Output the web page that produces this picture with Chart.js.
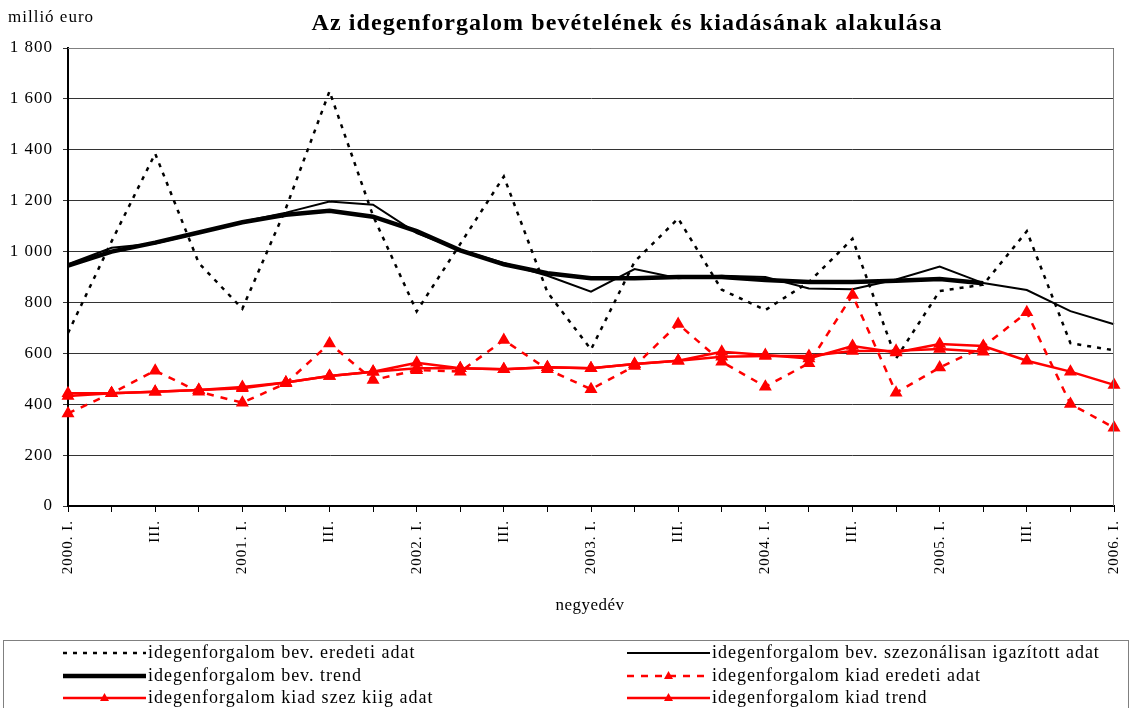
<!DOCTYPE html>
<html>
<head>
<meta charset="utf-8">
<script src="https://cdn.jsdelivr.net/npm/chart.js@4/dist/chart.umd.min.js"></script>
<style>
  html, body { margin: 0; padding: 0; background: #fff; }
  #wrap { width: 1132px; height: 708px; }
</style>
</head>
<body>
<div id="wrap"><canvas id="tourismChart" width="1132" height="708"></canvas></div>
<script>
// negyedévek
const categories = [
  '2000. I.', '2000. II.', '2000. III.', '2000. IV.',
  '2001. I.', '2001. II.', '2001. III.', '2001. IV.',
  '2002. I.', '2002. II.', '2002. III.', '2002. IV.',
  '2003. I.', '2003. II.', '2003. III.', '2003. IV.',
  '2004. I.', '2004. II.', '2004. III.', '2004. IV.',
  '2005. I.', '2005. II.', '2005. III.', '2005. IV.',
  '2006. I.'
];
const tickLabels = [
  '2000. I.', '', 'III.', '', '2001. I.', '', 'III.', '', '2002. I.', '', 'III.', '',
  '2003. I.', '', 'III.', '', '2004. I.', '', 'III.', '', '2005. I.', '', 'III.', '', '2006. I.'
];
const yTicks = [0, 200, 400, 600, 800, 1000, 1200, 1400, 1600, 1800];

// millió euro
const bevEredeti = [680, 1040, 1385, 955, 775, 1170, 1630, 1140, 765, 1030, 1295, 840,
  615, 960, 1130, 850, 770, 880, 1050, 580, 845, 870, 1080, 640, 612];
const bevSzez = [950, 1015, 1032, 1073, 1117, 1153, 1197, 1184, 1073, 1006, 955, 905,
  842, 931, 895, 905, 900, 855, 852, 890, 941, 876, 849, 766, 714];
const bevTrend = [945, 1000, 1035, 1075, 1115, 1145, 1160, 1137, 1080, 1005, 950, 915,
  895, 895, 900, 900, 888, 880, 880, 885, 892, 875, null, null, null];
const kiadEredeti = [364, 443, 532, 449, 406, 482, 639, 495, 534, 528, 652, 537,
  459, 550, 715, 567, 469, 561, 829, 445, 544, 626, 761, 401, 308];
const kiadSzez = [432, 443, 449, 456, 468, 485, 511, 528, 563, 541, 537, 545,
  541, 558, 571, 606, 593, 580, 629, 603, 637, 629, 571, 528, 476];
const kiadTrend = [443, 443, 449, 456, 463, 485, 511, 528, 541, 541, 537, 545,
  541, 558, 571, 587, 590, 590, 609, 610, 617, 606, null, null, null];

const serif = '"Liberation Serif", "DejaVu Serif", serif';
const RED = '#ff0000';

function fmtThousands(v) {
  return String(v).replace(/\B(?=(\d{3})+(?!\d))/g, ' ');
}

const extras = {
  id: 'extras',
  beforeDraw(chart) {
    // a tengelyfeliratok ritkább betűközzel
    chart.ctx.letterSpacing = '1px';
  },
  afterDraw(chart) {
    const ctx = chart.ctx;
    const a = chart.chartArea;
    ctx.save();
    // keret a rajzterület körül
    ctx.strokeStyle = '#808080';
    ctx.lineWidth = 1;
    ctx.beginPath();
    ctx.moveTo(a.left, a.top + 0.5);
    ctx.lineTo(a.right - 0.5, a.top + 0.5);
    ctx.lineTo(a.right - 0.5, a.bottom);
    ctx.stroke();

    ctx.fillStyle = '#000';
    ctx.textBaseline = 'middle';
    ctx.letterSpacing = '1.1px';
    ctx.font = 'bold 24px ' + serif;
    ctx.textAlign = 'center';
    ctx.fillText('Az idegenforgalom bevételének és kiadásának alakulása', 627, 24);

    ctx.letterSpacing = '1px';
    ctx.font = '17px ' + serif;
    ctx.textAlign = 'left';
    ctx.fillText('millió euro', 8, 18);

    ctx.letterSpacing = '0.5px';
    ctx.textAlign = 'center';
    ctx.fillText('negyedév', 590, 606);

    // jelmagyarázat
    ctx.letterSpacing = '0px';
    ctx.strokeStyle = '#808080';
    ctx.lineWidth = 1;
    ctx.strokeRect(3.5, 640.5, 1125, 80);

    const cols = [{ x0: 63, x1: 146 }, { x0: 627, x1: 710 }];
    const rows = [653, 676, 698];
    chart.data.datasets.forEach((ds, i) => {
      const c = cols[i % 2];
      const y = rows[Math.floor(i / 2)];
      ctx.save();
      ctx.strokeStyle = ds.borderColor;
      ctx.lineWidth = ds.borderWidth;
      ctx.setLineDash(ds.borderDash || []);
      ctx.beginPath();
      ctx.moveTo(c.x0, y);
      ctx.lineTo(c.x1, y);
      ctx.stroke();
      if (ds.pointRadius > 0) {
        const mx = (c.x0 + c.x1) / 2;
        const r = ds.pointRadius;
        ctx.fillStyle = ds.pointBackgroundColor;
        ctx.beginPath();
        ctx.moveTo(mx, y - r);
        ctx.lineTo(mx + r * 0.9, y + r * 0.6);
        ctx.lineTo(mx - r * 0.9, y + r * 0.6);
        ctx.closePath();
        ctx.fill();
      }
      ctx.restore();
      ctx.fillStyle = '#000';
      ctx.letterSpacing = '1px';
      ctx.font = '18px ' + serif;
      ctx.textAlign = 'left';
      ctx.fillText(ds.label, c.x1 + 2, y);
    });
    ctx.restore();
  }
};

const ctx = document.getElementById('tourismChart').getContext('2d');
new Chart(ctx, {
  type: 'line',
  data: {
    labels: categories,
    datasets: [
      {
        label: 'idegenforgalom bev. eredeti adat',
        data: bevEredeti,
        borderColor: '#000',
        borderWidth: 2.5,
        borderDash: [4, 6],
        pointRadius: 0,
        order: 6
      },
      {
        label: 'idegenforgalom bev. szezonálisan igazított adat',
        data: bevSzez,
        borderColor: '#000',
        borderWidth: 2,
        pointRadius: 0,
        order: 5
      },
      {
        label: 'idegenforgalom bev. trend',
        data: bevTrend,
        borderColor: '#000',
        borderWidth: 4.5,
        pointRadius: 0,
        order: 4
      },
      {
        label: 'idegenforgalom kiad eredeti adat',
        data: kiadEredeti,
        borderColor: RED,
        borderWidth: 2.5,
        borderDash: [7, 7],
        pointStyle: 'triangle',
        pointRadius: 5,
        pointBackgroundColor: RED,
        pointBorderColor: RED,
        order: 3
      },
      {
        label: 'idegenforgalom kiad szez kiig adat',
        data: kiadSzez,
        borderColor: RED,
        borderWidth: 2.5,
        pointStyle: 'triangle',
        pointRadius: 5,
        pointBackgroundColor: RED,
        pointBorderColor: RED,
        order: 2
      },
      {
        label: 'idegenforgalom kiad trend',
        data: kiadTrend,
        borderColor: RED,
        borderWidth: 2.5,
        pointStyle: 'triangle',
        pointRadius: 5,
        pointBackgroundColor: RED,
        pointBorderColor: RED,
        order: 1
      }
    ]
  },
  options: {
    responsive: false,
    animation: false,
    tension: 0,
    layout: { padding: { top: 48, right: 18, bottom: 0, left: 0 } },
    plugins: {
      legend: { display: false },
      title: { display: false },
      tooltip: { enabled: false }
    },
    scales: {
      x: {
        offset: false,
        afterFit(scale) {
          scale.height = 202;
          scale.paddingLeft = 0;
          scale.paddingRight = 0;
        },
        grid: {
          drawOnChartArea: false,
          drawTicks: true,
          tickLength: 6,
          color: '#000'
        },
        border: { color: '#000', width: 2 },
        ticks: {
          autoSkip: false,
          maxRotation: 90,
          minRotation: 90,
          padding: 8,
          color: '#000',
          font: { family: serif, size: 15 },
          callback: (v, i) => tickLabels[i]
        }
      },
      y: {
        min: 0,
        max: 1800,
        afterFit(scale) {
          scale.width = 68;
          scale.paddingTop = 0;
          scale.paddingBottom = 0;
        },
        afterBuildTicks(scale) { scale.ticks = yTicks.map(v => ({ value: v })); },
        grid: {
          color: '#333',
          lineWidth: 1,
          drawTicks: true,
          tickLength: 5
        },
        border: { color: '#000', width: 2 },
        ticks: {
          padding: 10,
          color: '#000',
          font: { family: serif, size: 17 },
          callback: v => fmtThousands(v)
        }
      }
    }
  },
  plugins: [extras]
});
</script>
</body>
</html>
